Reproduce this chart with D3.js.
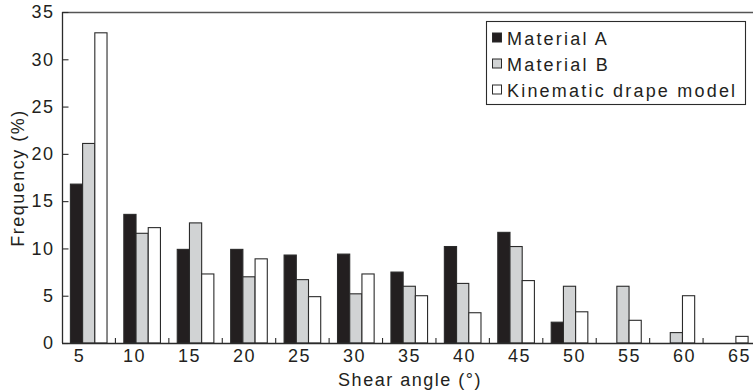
<!DOCTYPE html>
<html>
<head>
<meta charset="utf-8">
<script src="https://cdn.jsdelivr.net/npm/d3@7"></script>
<style>
  html, body { margin: 0; padding: 0; background: #fff; }
  svg { display: block; }
  text { font-family: "Liberation Sans", Arial, Helvetica, sans-serif; fill: #231f20; letter-spacing: 1.5px; }
  .item text { letter-spacing: 2.2px; }
</style>
</head>
<body>
<svg id="chart" width="753" height="392"></svg>
<script>
// ---- data ----
const categories = ["5","10","15","20","25","30","35","40","45","50","55","60","65"];
const seriesNames = ["Material A", "Material B", "Kinematic drape model"];
const materialA = [16.8, 13.6, 9.9, 9.9, 9.3, 9.4, 7.5, 10.2, 11.7, 2.2, 0, 0, 0];
const materialB = [21.1, 11.6, 12.7, 7.0, 6.7, 5.2, 6.0, 6.3, 10.2, 6.0, 6.0, 1.1, 0];
const kinematic = [32.8, 12.2, 7.3, 8.9, 4.9, 7.3, 5.0, 3.2, 6.6, 3.3, 2.4, 5.0, 0.7];
const yTicks = [0, 5, 10, 15, 20, 25, 30, 35];
const xTickLabels = [5, 10, 15, 20, 25, 30, 35, 40, 45, 50, 55, 60, 65];

const seriesValues = [materialA, materialB, kinematic];
const colors = ["#231f20", "#d1d3d4", "#ffffff"];

// ---- layout ----
const mLeft = 62, mRight = 753, mTop = 12, mBottom = 343;
const svg = d3.select("#chart");

const y = d3.scaleLinear().domain([0, 35]).range([mBottom, mTop]);
const pIn = 0.3145;
const x0 = d3.scaleBand().domain(categories).range([mLeft, 756.5]).paddingInner(pIn).paddingOuter(pIn / 2);
const x1 = d3.scaleBand().domain(d3.range(seriesNames.length)).range([0, x0.bandwidth()]);
const xLab = d3.scaleLinear().domain([5, 65]).range([79, 739]);

// bars
const rows = categories.map((c, i) => ({ c, vals: seriesValues.map(s => s[i]) }));
svg.append("g").selectAll("g").data(rows).join("g")
  .attr("transform", d => `translate(${x0(d.c)},0)`)
  .selectAll("rect")
  .data(d => d.vals.map((v, k) => ({ v, k })).filter(e => e.v > 0))
  .join("rect")
  .attr("x", d => x1(d.k))
  .attr("width", x1.bandwidth())
  .attr("y", d => y(d.v))
  .attr("height", d => y(0) - y(d.v))
  .attr("fill", d => colors[d.k])
  .attr("stroke", "#2b2b2b")
  .attr("stroke-width", 1.1);

// frame lines
svg.append("line").attr("x1", mLeft).attr("x2", mRight).attr("y1", mTop + 0.5).attr("y2", mTop + 0.5)
  .attr("stroke", "#555").attr("stroke-width", 1.3);
svg.append("line").attr("x1", mLeft + 0.5).attr("x2", mLeft + 0.5).attr("y1", mTop).attr("y2", mBottom)
  .attr("stroke", "#2b2b2b").attr("stroke-width", 1.3);
svg.append("line").attr("x1", mLeft).attr("x2", mRight).attr("y1", mBottom + 0.5).attr("y2", mBottom + 0.5)
  .attr("stroke", "#2b2b2b").attr("stroke-width", 1.3);

// y axis ticks and labels
const yAxis = d3.axisLeft(y).tickValues(yTicks).tickSizeInner(-6).tickSizeOuter(0).tickPadding(8);
const gy = svg.append("g").attr("transform", `translate(${mLeft + 0.5},0)`).call(yAxis);
gy.select(".domain").remove();
gy.selectAll("line").attr("stroke", "#2b2b2b").attr("stroke-width", 1.1);
gy.selectAll("text").attr("font-size", 18).style("font-family", "Liberation Sans, Arial, sans-serif")
  .attr("fill", "#231f20");

// x tick marks (between groups)
const step = x0.step();
svg.append("g").selectAll("line").data(categories.slice(1)).join("line")
  .attr("x1", d => x0(d) - step * pIn / 2).attr("x2", d => x0(d) - step * pIn / 2)
  .attr("y1", mBottom).attr("y2", mBottom - 5)
  .attr("stroke", "#2b2b2b").attr("stroke-width", 1.1);

// x labels
const xAxis = d3.axisBottom(xLab).tickValues(xTickLabels).tickSize(0).tickPadding(6);
const gx = svg.append("g").attr("transform", `translate(0,${mBottom})`).call(xAxis);
gx.select(".domain").remove();
gx.selectAll("text").attr("font-size", 18).style("font-family", "Liberation Sans, Arial, sans-serif")
  .attr("fill", "#231f20");

// axis titles
svg.append("text").attr("x", 410).attr("y", 386).attr("text-anchor", "middle")
  .attr("font-size", 18).text("Shear angle (°)");
svg.append("text").attr("transform", "translate(24,178) rotate(-90)").attr("text-anchor", "middle")
  .attr("font-size", 18).text("Frequency (%)");

// legend
const lg = svg.append("g");
lg.append("rect").attr("x", 486.5).attr("y", 21.5).attr("width", 259).attr("height", 83)
  .attr("fill", "#fff").attr("stroke", "#2b2b2b").attr("stroke-width", 1.1);
const items = lg.selectAll("g.item").data(seriesNames).join("g").attr("class", "item")
  .attr("transform", (d, i) => `translate(0,${44.5 + i * 26})`);
items.append("rect").attr("x", 492.5).attr("y", -11.5).attr("width", 9).attr("height", 9)
  .attr("fill", (d, i) => colors[i]).attr("stroke", "#2b2b2b").attr("stroke-width", 1);
items.append("text").attr("x", 507).attr("y", 0).attr("font-size", 18).text(d => d);
</script>
</body>
</html>
